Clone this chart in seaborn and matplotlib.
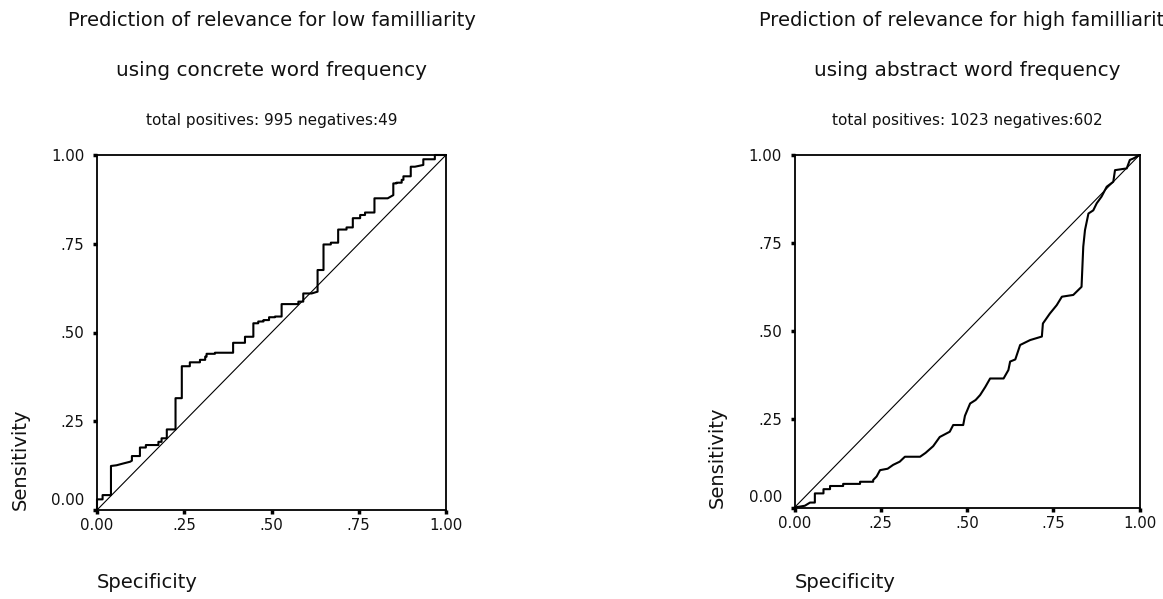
import matplotlib
matplotlib.use('Agg')
import matplotlib.pyplot as plt
import matplotlib.transforms as mtrans
import seaborn as sns
import pandas as pd

# ROC curve vertices (x = 1 - specificity, y = sensitivity)
low_x = [0.0, 0.0, 0.016, 0.016, 0.04, 0.04, 0.056, 0.075, 0.095, 0.1, 0.1, 0.123, 0.123,
         0.14, 0.14, 0.176, 0.176, 0.185, 0.185, 0.2, 0.2, 0.225, 0.225, 0.243, 0.243,
         0.266, 0.266, 0.295, 0.295, 0.31, 0.31, 0.314, 0.314, 0.338, 0.338, 0.39, 0.39,
         0.424, 0.424, 0.448, 0.448, 0.462, 0.462, 0.477, 0.477, 0.493, 0.493, 0.51, 0.51,
         0.529, 0.529, 0.577, 0.577, 0.591, 0.591, 0.615, 0.632, 0.632, 0.649, 0.649,
         0.67, 0.67, 0.691, 0.691, 0.715, 0.715, 0.733, 0.733, 0.754, 0.754, 0.768, 0.768,
         0.795, 0.795, 0.833, 0.849, 0.849, 0.858, 0.858, 0.873, 0.873, 0.878, 0.878,
         0.899, 0.899, 0.911, 0.935, 0.935, 0.968, 0.968, 1.0]
low_y = [0.0, 0.03, 0.03, 0.042, 0.042, 0.124, 0.126, 0.131, 0.136, 0.139, 0.152, 0.152, 0.176,
         0.176, 0.183, 0.183, 0.192, 0.192, 0.202, 0.202, 0.227, 0.227, 0.315, 0.315, 0.405,
         0.405, 0.416, 0.416, 0.423, 0.423, 0.432, 0.432, 0.44, 0.44, 0.443, 0.443, 0.471,
         0.471, 0.488, 0.488, 0.526, 0.526, 0.531, 0.531, 0.535, 0.535, 0.543, 0.543, 0.545,
         0.545, 0.58, 0.58, 0.587, 0.587, 0.61, 0.61, 0.615, 0.676, 0.676, 0.748,
         0.748, 0.753, 0.753, 0.79, 0.79, 0.796, 0.796, 0.822, 0.822, 0.831, 0.831, 0.838,
         0.838, 0.878, 0.878, 0.887, 0.92, 0.92, 0.922, 0.922, 0.93, 0.93, 0.94,
         0.94, 0.967, 0.967, 0.972, 0.988, 0.988, 1.0, 1.0]

high_x = [0.0, 0.03, 0.045, 0.059, 0.059, 0.084, 0.084, 0.103, 0.103, 0.141, 0.141, 0.19, 0.19,
          0.228, 0.228, 0.238, 0.248, 0.27, 0.286, 0.305, 0.32, 0.364, 0.38, 0.402, 0.421,
          0.45, 0.46, 0.489, 0.494, 0.509, 0.525, 0.538, 0.553, 0.567, 0.606, 0.62, 0.625,
          0.64, 0.654, 0.683, 0.717, 0.72, 0.74, 0.76, 0.775, 0.808, 0.832, 0.837, 0.842,
          0.852, 0.866, 0.876, 0.89, 0.905, 0.924, 0.929, 0.963, 0.972, 0.982, 1.0]
high_y = [0.0, 0.005, 0.014, 0.014, 0.04, 0.04, 0.052, 0.052, 0.061, 0.061, 0.067, 0.067, 0.073,
          0.073, 0.078, 0.088, 0.106, 0.11, 0.121, 0.13, 0.144, 0.144, 0.155, 0.174, 0.2,
          0.215, 0.234, 0.234, 0.26, 0.295, 0.305, 0.319, 0.342, 0.366, 0.366, 0.39, 0.414,
          0.42, 0.461, 0.475, 0.485, 0.522, 0.55, 0.574, 0.598, 0.603, 0.626, 0.74, 0.787,
          0.834, 0.843, 0.863, 0.882, 0.91, 0.924, 0.957, 0.962, 0.986, 0.99, 1.0]

ref_line = [0.0, 1.0]
tick_vals = [0.0, 0.25, 0.5, 0.75, 1.0]
tick_labels = ['0.00', '.25', '.50', '.75', '1.00']

titles = ['Prediction of relevance for low familliarity',
          'Prediction of relevance for high familliarity']
subtitles = ['using concrete word frequency', 'using abstract word frequency']
counts = ['total positives: 995 negatives:49', 'total positives: 1023 negatives:602']

sns.set_style('white')
plt.rcParams['font.family'] = ['DejaVu Sans']

fig = plt.figure(figsize=(11.63, 5.99), dpi=100)
W, H = 1163, 599
boxes = [(97, 446, 155, 510), (794.5, 1139.5, 155, 507.5)]
curves = [(low_x, low_y), (high_x, high_y)]

for i, (x0, x1, y0, y1) in enumerate(boxes):
    ax = fig.add_axes([x0 / W, 1 - y1 / H, (x1 - x0) / W, (y1 - y0) / H])
    cx, cy = curves[i]
    df = pd.DataFrame({'x': cx, 'y': cy})
    sns.lineplot(data=df, x='x', y='y', sort=False, estimator=None, color='black',
                 linewidth=1.5, ax=ax, clip_on=False)
    sns.lineplot(x=ref_line, y=ref_line, sort=False, estimator=None, color='black',
                 linewidth=0.8, ax=ax)
    ax.set_xlim(0, 1)
    ax.set_ylim(0, 1)
    ax.set_xticks(tick_vals)
    ax.set_xticklabels(tick_labels)
    ax.set_yticks(tick_vals)
    ax.set_yticklabels(tick_labels)
    ax.set_xlabel('')
    ax.set_ylabel('')
    for s in ax.spines.values():
        s.set_color('black')
        s.set_linewidth(1.3)
        s.set_visible(True)
    ax.tick_params(axis='both', direction='out', length=3, width=2.5, color='black',
                   labelsize=10.8, labelcolor='#111111')
    ax.tick_params(axis='x', pad=3, bottom=True, top=False)
    ax.tick_params(axis='y', pad=6, left=True, right=False)
    # raise the 0.00 label on the y axis like the original
    lab = ax.get_yticklabels()[0]
    lab.set_transform(lab.get_transform() +
                      mtrans.ScaledTranslation(0, 8 / 72, fig.dpi_scale_trans))

    xc = (x0 + x1) / 2 / W
    fig.text(xc, 1 - 20 / H, titles[i], ha='center', va='center', fontsize=14, color='#111111')
    fig.text(xc, 1 - 70 / H, subtitles[i], ha='center', va='center', fontsize=14.4, color='#111111')
    fig.text(xc, 1 - 120 / H, counts[i], ha='center', va='center', fontsize=11, color='#111111')
    fig.text((x0 - 77) / W, 1 - y1 / H, 'Sensitivity', rotation=90, ha='center', va='bottom',
             fontsize=14, color='#111111')
    fig.text(x0 / W, 1 - 582 / H, 'Specificity', ha='left', va='center', fontsize=14,
             color='#111111')

fig.savefig('out.png', dpi=100, facecolor='white')
